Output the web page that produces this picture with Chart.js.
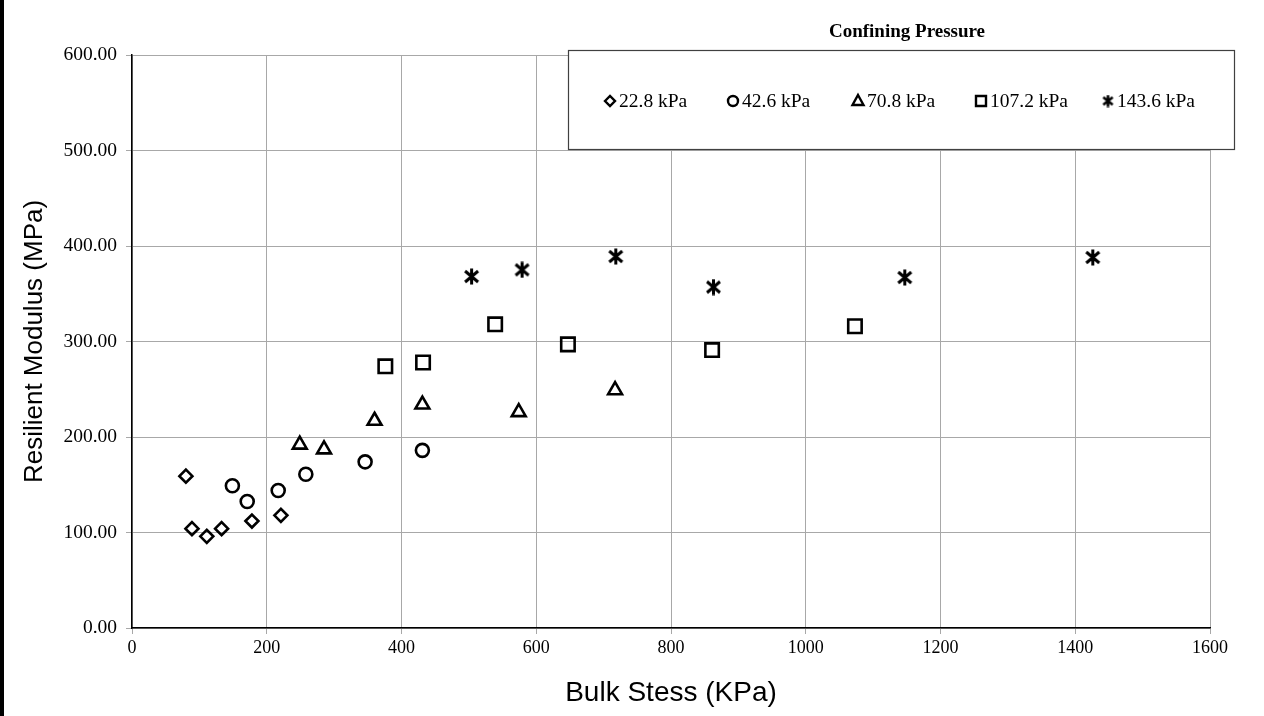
<!DOCTYPE html>
<html>
<head>
<meta charset="utf-8">
<script src="https://cdn.jsdelivr.net/npm/chart.js@4.4.1/dist/chart.umd.min.js"></script>
<style>
  html, body { margin: 0; padding: 0; background: #fff; }
  #wrap { position: relative; width: 1264px; height: 716px; }
  #leftbar { position: absolute; left: 0; top: 0; width: 4px; height: 716px; background: #000; }
</style>
</head>
<body>
<div id="wrap">
  <canvas id="mrChart" width="1264" height="716"></canvas>
  <div id="leftbar"></div>
</div>
<script>
// confining pressure groups
let series_names = ["22.8 kPa", "42.6 kPa", "70.8 kPa", "107.2 kPa", "143.6 kPa"];

// bulk stress (kPa) and resilient modulus (MPa) per group
let bulk_228 = [80, 89, 111, 133, 178, 221];
let mr_228 = [159, 104, 96, 104, 112, 118];

let bulk_426 = [149, 171, 217, 258, 346, 431];
let mr_426 = [149, 132.5, 144, 161, 174, 186];

let bulk_708 = [249, 285, 360, 431, 574, 717];
let mr_708 = [192, 187, 217, 234, 226, 249];

let bulk_1072 = [376, 432, 539, 647, 861, 1073];
let mr_1072 = [274, 278, 318, 297, 291, 316];

let bulk_1436 = [504, 579, 718, 863, 1147, 1426];
let mr_1436 = [368, 375, 389, 357, 367, 388];

let x_ticks = [0, 200, 400, 600, 800, 1000, 1200, 1400, 1600];
let y_ticks = [0, 100, 200, 300, 400, 500, 600];

function toPoints(xs, ys) {
  return xs.map((x, i) => ({ x: x, y: ys[i] }));
}

// excel style "x with vertical line" marker
function starMarker(size, lw) {
  let c = document.createElement("canvas");
  c.width = size;
  c.height = size;
  let g = c.getContext("2d");
  g.strokeStyle = "#000";
  g.lineWidth = lw;
  let m = lw / 2 + 0.5;
  g.beginPath();
  g.moveTo(m, m + 1); g.lineTo(size - m, size - m - 1);
  g.moveTo(size - m, m + 1); g.lineTo(m, size - m - 1);
  g.moveTo(size / 2, 0.5); g.lineTo(size / 2, size - 0.5);
  g.stroke();
  return c;
}

let star_big = starMarker(17, 3);
let star_small = starMarker(13, 2.6);

let point_styles = ["rectRot", "circle", "triangle", "rect", star_big];
let point_radius = [6.5, 6.5, 8, 9.5, 8.5];
let legend_styles = ["rectRot", "circle", "triangle", "rect", star_small];

let all_x = [bulk_228, bulk_426, bulk_708, bulk_1072, bulk_1436];
let all_y = [mr_228, mr_426, mr_708, mr_1072, mr_1436];

let datasets = series_names.map((name, i) => ({
  label: name,
  data: toPoints(all_x[i], all_y[i]),
  pointStyle: point_styles[i],
  pointRadius: point_radius[i],
  pointHoverRadius: point_radius[i],
  pointBorderWidth: 2.6,
  borderColor: "#000",
  backgroundColor: "rgba(255,255,255,0)",
  showLine: false
}));

// legend drawn in a box that overlaps the plot, like the excel original
const boxLegend = {
  id: "boxLegend",
  afterDraw(chart) {
    let ctx = chart.ctx;
    ctx.save();
    ctx.fillStyle = "#fff";
    ctx.fillRect(568.5, 50.5, 666, 99);
    ctx.strokeStyle = "#404040";
    ctx.lineWidth = 1.2;
    ctx.strokeRect(568.5, 50.5, 666, 99);

    ctx.fillStyle = "#000";
    ctx.font = "bold 19px 'Liberation Serif'";
    ctx.textAlign = "center";
    ctx.textBaseline = "middle";
    ctx.fillText("Confining Pressure", 907, 32);

    let marker_x = [610, 733, 858, 981, 1108];
    ctx.font = "19.5px 'Liberation Serif'";
    ctx.textAlign = "left";
    series_names.forEach((name, i) => {
      let mx = marker_x[i];
      let my = 101;
      ctx.strokeStyle = "#000";
      ctx.lineWidth = 2.4;
      ctx.beginPath();
      let s = legend_styles[i];
      if (s === "rectRot") {
        ctx.moveTo(mx - 5, my); ctx.lineTo(mx, my - 5); ctx.lineTo(mx + 5, my); ctx.lineTo(mx, my + 5); ctx.closePath();
        ctx.stroke();
      } else if (s === "circle") {
        ctx.arc(mx, my, 5, 0, Math.PI * 2);
        ctx.stroke();
      } else if (s === "triangle") {
        ctx.moveTo(mx, my - 6); ctx.lineTo(mx + 5.5, my + 4); ctx.lineTo(mx - 5.5, my + 4); ctx.closePath();
        ctx.stroke();
      } else if (s === "rect") {
        ctx.rect(mx - 5, my - 5, 10, 10);
        ctx.stroke();
      } else {
        ctx.drawImage(s, mx - 6.5, my - 6.5);
      }
      ctx.fillStyle = "#000";
      ctx.fillText(name, mx + 9, my + 1);
    });
    ctx.restore();
  }
};

new Chart("mrChart", {
  type: "scatter",
  data: { datasets: datasets },
  options: {
    responsive: false,
    animation: false,
    events: [],
    layout: { padding: { left: 0, right: 54, top: 55, bottom: 0 } },
    plugins: {
      legend: { display: false },
      tooltip: { enabled: false }
    },
    scales: {
      x: {
        type: "linear",
        min: 0,
        max: 1600,
        afterBuildTicks: (axis) => { axis.ticks = x_ticks.map(v => ({ value: v })); },
        afterFit: (axis) => { axis.height = 88; },
        grid: { color: "#a8a8a8", lineWidth: 1, tickLength: 6, tickColor: "#a8a8a8" },
        border: { color: "#000", width: 1.5 },
        ticks: {
          color: "#000",
          font: { family: "Liberation Serif", size: 18 },
          padding: 3,
          maxRotation: 0,
          callback: (v) => String(v)
        },
        title: {
          display: true,
          text: "Bulk Stess (KPa)",
          color: "#000",
          font: { family: "Liberation Sans", size: 28 },
          padding: { top: 0, bottom: 6 }
        }
      },
      y: {
        type: "linear",
        min: 0,
        max: 600,
        afterBuildTicks: (axis) => { axis.ticks = y_ticks.map(v => ({ value: v })); },
        afterFit: (axis) => { axis.width = 132; },
        grid: { color: "#a8a8a8", lineWidth: 1, tickLength: 6, tickColor: "#a8a8a8" },
        border: { color: "#000", width: 1.5 },
        ticks: {
          color: "#000",
          font: { family: "Liberation Serif", size: 19.5 },
          padding: 9,
          callback: (v) => Number(v).toFixed(2)
        },
        title: {
          display: true,
          text: "Resilient Modulus (MPa)",
          color: "#000",
          font: { family: "Liberation Sans", size: 26 },
          padding: { top: 19, bottom: 0 }
        }
      }
    }
  },
  plugins: [boxLegend]
});
</script>
</body>
</html>
